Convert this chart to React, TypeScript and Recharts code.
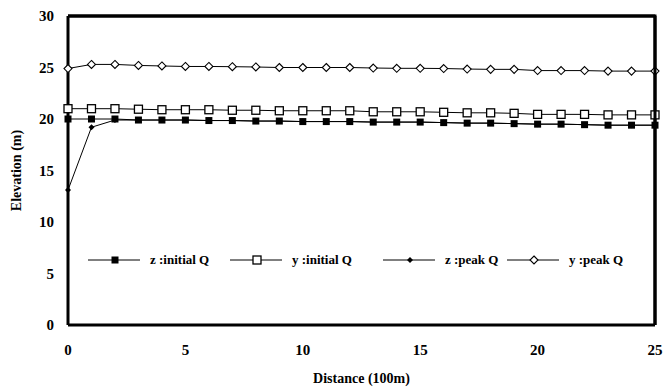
import React from 'react';
import { LineChart, Line, XAxis, YAxis, Legend, CartesianGrid } from 'recharts';

// distance along channel (100 m units)
const distance = [0, 1, 2, 3, 4, 5, 6, 7, 8, 9, 10, 11, 12, 13, 14, 15, 16, 17, 18, 19, 20, 21, 22, 23, 24, 25];

// bed elevation and water surface, initial and peak discharge
const zInitial = [20.0, 20.0, 20.0, 19.9, 19.9, 19.9, 19.85, 19.85, 19.8, 19.8, 19.75, 19.75, 19.75, 19.7, 19.7, 19.7, 19.65, 19.6, 19.6, 19.55, 19.5, 19.5, 19.45, 19.4, 19.4, 19.4];
const yInitial = [21.0, 21.0, 21.0, 20.95, 20.9, 20.9, 20.9, 20.85, 20.85, 20.8, 20.8, 20.8, 20.8, 20.7, 20.7, 20.7, 20.65, 20.6, 20.6, 20.55, 20.45, 20.45, 20.45, 20.4, 20.4, 20.4];
const zPeak = [13.1, 19.2, 19.9, 19.9, 19.9, 19.9, 19.85, 19.85, 19.8, 19.8, 19.75, 19.75, 19.75, 19.7, 19.7, 19.7, 19.65, 19.6, 19.6, 19.55, 19.5, 19.5, 19.45, 19.4, 19.4, 19.4];
const yPeak = [24.9, 25.3, 25.3, 25.2, 25.15, 25.1, 25.1, 25.08, 25.05, 25.0, 25.0, 25.0, 25.0, 24.95, 24.92, 24.92, 24.9, 24.85, 24.82, 24.82, 24.7, 24.7, 24.7, 24.65, 24.65, 24.65];

const xTicks = [0, 5, 10, 15, 20, 25];
const yTicks = [0, 5, 10, 15, 20, 25, 30];

const data = distance.map((d, i) => ({
  d,
  zInitial: zInitial[i],
  yInitial: yInitial[i],
  zPeak: zPeak[i],
  yPeak: yPeak[i],
}));

const FONT = 'Liberation Serif';

type Shape = 'fillSquare' | 'openSquare' | 'fillDiamond' | 'openDiamond';

const Marker = ({ cx, cy, shape }: { cx: number; cy: number; shape: Shape }) => {
  if (cx == null || cy == null) return null;
  switch (shape) {
    case 'fillSquare':
      return <rect x={cx - 3.5} y={cy - 3.5} width={7} height={7} fill="#000" />;
    case 'openSquare':
      return <rect x={cx - 4} y={cy - 4} width={8} height={8} fill="#fff" stroke="#000" strokeWidth={1.3} />;
    case 'fillDiamond':
      return <polygon points={`${cx},${cy - 3} ${cx + 3},${cy} ${cx},${cy + 3} ${cx - 3},${cy}`} fill="#000" />;
    default:
      return (
        <polygon
          points={`${cx},${cy - 4} ${cx + 4},${cy} ${cx},${cy + 4} ${cx - 4},${cy}`}
          fill="#fff"
          stroke="#000"
          strokeWidth={1.1}
        />
      );
  }
};

const series: { key: string; name: string; shape: Shape }[] = [
  { key: 'zInitial', name: 'z :initial Q', shape: 'fillSquare' },
  { key: 'yInitial', name: 'y :initial Q', shape: 'openSquare' },
  { key: 'zPeak', name: 'z :peak Q', shape: 'fillDiamond' },
  { key: 'yPeak', name: 'y :peak Q', shape: 'openDiamond' },
];

// legend row inside the plot, plus the top and right edges of the box
const legendX = [88, 230, 383, 507];
const legendY = 260;

const renderLegend = () => (
  <svg width={667} height={391} style={{ display: 'block', overflow: 'visible' }}>
    <path d="M68 16 L655 16 L655 325" fill="none" stroke="#000" strokeWidth={3} />
    {series.map((s, i) => {
      const x = legendX[i];
      return (
        <g key={s.key}>
          <line x1={x} x2={x + 52} y1={legendY} y2={legendY} stroke="#000" strokeWidth={1} />
          <Marker cx={x + 27} cy={legendY} shape={s.shape} />
          <text x={x + 62} y={legendY + 4} fontFamily={FONT} fontWeight={700} fontSize={13} fill="#000">
            {s.name}
          </text>
        </g>
      );
    })}
  </svg>
);

const tickStyle = { fill: '#000', fontFamily: FONT, fontWeight: 700, fontSize: 15 };
const titleStyle = { fill: '#000', fontFamily: FONT, fontWeight: 700, fontSize: 14 };
const frame = { stroke: '#000', strokeWidth: 3 };

export default function App() {
  return (
    <div style={{ position: 'fixed', left: 0, top: 0, width: 667, height: 391, background: '#fff', fontFamily: FONT }}>
      <LineChart width={667} height={391} data={data} margin={{ top: 16, right: 12, left: 0, bottom: 6 }}>
        {/* grid used only for the top and right edges of the box */}
        <CartesianGrid horizontalValues={[30]} verticalValues={[25]} stroke="#000" strokeWidth={3} strokeOpacity={1} />
        <XAxis
          dataKey="d"
          type="number"
          domain={[0, 25]}
          ticks={xTicks}
          height={60}
          tickLine={false}
          tickSize={0}
          tickMargin={19}
          axisLine={frame}
          tick={tickStyle}
          label={{ value: 'Distance (100m)', position: 'insideBottom', offset: 2, style: titleStyle }}
        />
        <YAxis
          type="number"
          domain={[0, 30]}
          ticks={yTicks}
          width={68}
          tickLine={false}
          tickSize={0}
          tickMargin={14}
          axisLine={frame}
          tick={tickStyle}
          label={{ value: 'Elevation (m)', angle: -90, position: 'insideLeft', offset: 16, style: { ...titleStyle, textAnchor: 'middle' } }}
        />
        {series.map((s) => (
          <Line
            key={s.key}
            dataKey={s.key}
            name={s.name}
            type="linear"
            stroke="#000"
            strokeWidth={1}
            isAnimationActive={false}
            dot={(p: any) => <Marker key={`${s.key}-${p.index}`} cx={p.cx} cy={p.cy} shape={s.shape} />}
            activeDot={false}
          />
        ))}
        <Legend
          verticalAlign="middle"
          align="center"
          content={renderLegend}
          wrapperStyle={{ position: 'absolute', left: 0, top: 0, width: 667, height: 391, pointerEvents: 'none' }}
        />
      </LineChart>
    </div>
  );
}
